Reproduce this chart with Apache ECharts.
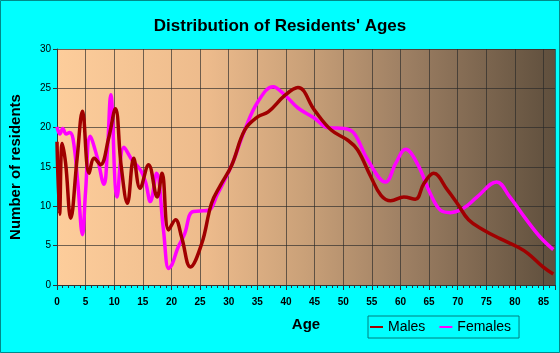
<!DOCTYPE html>
<html>
<head>
<meta charset="utf-8">
<script src="https://cdn.jsdelivr.net/npm/echarts@6/dist/echarts.min.js"></script>
<style>html,body{margin:0;padding:0;background:#00ffff;}#c{width:560px;height:353px;}</style>
</head>
<body>
<div id="c"></div>
<script>
var titleText = "Distribution of Residents' Ages";
var xName = "Age";
var yName = "Number of residents";
var seriesNames = ["Males", "Females"];
var yTicks = [0, 5, 10, 15, 20, 25, 30];

var males = [[0,18.2],[0.45,9.0],[0.9,18.0],[1.5,15.5],[2.4,8.5],[3.5,16],[4.45,22.1],[5.6,14.2],[6.5,16.1],[7.6,15.3],[9,18.6],[10.2,22.4],[11.2,15.2],[12.3,10.4],[13.4,16.1],[14.5,12.3],[16.0,15.3],[17.5,11.2],[18.35,14.2],[19.5,7.0],[20.7,8.3],[21.8,6.0],[23.3,2.3],[25.3,5.3],[27,10.4],[28.5,12.6],[30.5,15.2],[32.8,19.7],[35.1,21.4],[36.9,22.0],[39.8,24.1],[42.1,25.1],[45,22.2],[47.9,19.7],[50.8,18.4],[52.5,17.2],[54.8,13.8],[56.6,11.4],[58.3,10.7],[60.6,11.2],[62.6,10.9],[64.1,12.9],[65.8,14.2],[68.2,12.1],[69.9,10.4],[71.9,8.3],[74.5,7.0],[77.4,5.9],[80.3,4.9],[82.3,4.0],[84.9,2.3],[86.7,1.4]];

var females = [[0,20.1],[0.5,19.2],[1,19.9],[1.6,19.2],[2.2,19.4],[2.8,18.6],[3.6,13.3],[4.45,6.4],[5.0,12],[5.8,18.9],[7,16.3],[8.2,12.8],[8.8,17],[9.4,24.2],[10.5,11.2],[11.7,17.5],[13.1,15.9],[14.6,14.6],[15.5,13],[16.3,10.6],[17.4,14.2],[18.6,7],[19.5,2.1],[20.1,2.6],[21.1,4.7],[22.3,6.5],[23.6,9.3],[25,9.4],[26.5,9.5],[28,11.5],[30.5,15.2],[32.8,19.7],[35.1,23.3],[37.75,25.2],[39.8,24.15],[42.1,22.5],[45,21.2],[47.3,20.0],[50.2,19.9],[51.9,19.3],[54.3,15.9],[57.4,13.1],[59.2,15.5],[60.9,17.25],[62.9,15.5],[65.3,11.5],[67,9.5],[68.7,9.2],[71,9.75],[73.4,11.2],[76.8,13.1],[79.1,11.2],[81.8,8.5],[84.4,6.1],[86.7,4.5]];

var chart = echarts.init(document.getElementById('c'), null, {renderer: 'canvas'});
var font = 'Liberation Sans, Arial, sans-serif';
chart.setOption({
  backgroundColor: '#00ffff',
  animation: false,
  textStyle: {fontFamily: font},
  title: {
    text: titleText, left: 'center', top: 13,
    textStyle: {fontSize: 17, fontWeight: 'bold', color: '#000', fontFamily: font}
  },
  graphic: [{
    type: 'rect', silent: true, z: 100,
    shape: {x: 0.5, y: 0.5, width: 559, height: 352},
    style: {fill: 'none', stroke: '#008a8a', lineWidth: 1}
  }],
  legend: {
    data: seriesNames, left: 368, top: 316,
    orient: 'horizontal', icon: 'rect', itemWidth: 13, itemHeight: 2, itemGap: 14,
    padding: [4, 8, 4, 2],
    borderColor: '#007f7f', borderWidth: 1,
    lineStyle: {width: 2},
    textStyle: {fontSize: 14, color: '#000', fontFamily: font, padding: [0, 0, 0, 0]}
  },
  grid: {
    left: 54.4, right: 5, top: 49, bottom: 68, show: true, borderWidth: 0,
    backgroundColor: {type: 'linear', x: 0, y: 0, x2: 1, y2: 0, colorStops: [
      {offset: 0, color: '#fdcd9b'}, {offset: 0.3, color: '#edbb8c'},
      {offset: 0.5, color: '#c9a078'}, {offset: 0.7, color: '#9d7f63'},
      {offset: 1, color: '#5f4f3d'}]}
  },
  xAxis: {
    type: 'value', min: 0, max: 87, interval: 5,
    name: xName, nameLocation: 'middle', nameGap: 32,
    nameTextStyle: {fontSize: 15, fontWeight: 'bold', color: '#000', fontFamily: font},
    axisLine: {show: true, onZero: false, lineStyle: {color: '#333', width: 1}},
    axisTick: {show: true, length: 5, lineStyle: {color: '#333'}},
    minorTick: {show: true, splitNumber: 5, length: 3, lineStyle: {color: '#333'}},
    axisLabel: {fontSize: 10, fontWeight: 'bold', color: '#000', margin: 12, showMaxLabel: false},
    splitLine: {show: true, lineStyle: {color: 'rgba(40,40,40,0.65)', width: 1}}
  },
  yAxis: {
    type: 'value', min: 0, max: 30, interval: 5,
    name: yName, nameLocation: 'middle', nameGap: 34,
    nameTextStyle: {fontSize: 15, fontWeight: 'bold', color: '#000', fontFamily: font},
    axisLine: {show: true, lineStyle: {color: '#333', width: 1}},
    axisTick: {show: true, length: 4, lineStyle: {color: '#333'}},
    axisLabel: {fontSize: 10, color: '#000', margin: 6,
      formatter: function (v) { return yTicks.indexOf(v) >= 0 ? String(v) : ''; }},
    splitLine: {show: true, lineStyle: {color: 'rgba(40,40,40,0.65)', width: 1}}
  },
  series: [
    {name: seriesNames[1], type: 'line', data: females, smooth: 0.4, showSymbol: false,
     itemStyle: {color: '#ff00ff'}, lineStyle: {color: '#ff00ff', width: 3.5}},
    {name: seriesNames[0], type: 'line', data: males, smooth: 0.4, showSymbol: false,
     itemStyle: {color: '#a00000'}, lineStyle: {color: '#a00000', width: 3.5}}
  ]
});
</script>
</body>
</html>
